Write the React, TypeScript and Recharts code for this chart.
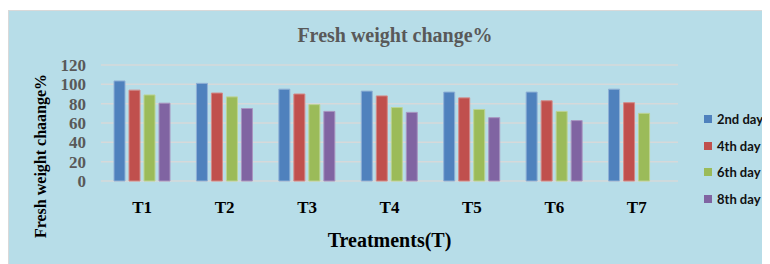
import { BarChart, Bar, XAxis, YAxis, CartesianGrid, Legend, Label } from "recharts";

const treatments = ["T1", "T2", "T3", "T4", "T5", "T6", "T7"];
const day2 = [103.5, 101, 95, 93, 92, 92, 95];
const day4 = [94, 91, 90, 88, 86, 83, 81];
const day6 = [89, 87, 79, 76, 74, 72, 70];
const day8 = [80.5, 75, 72, 71, 65.5, 62.5, null];
const yTicks = [0, 20, 40, 60, 80, 100, 120];

const seriesNames = ["2nd day", "4th day", "6th day", "8th day"];
const seriesColors = ["#4f81bd", "#c0504d", "#9bbb59", "#8064a2"];

const data = treatments.map((t, i) => ({
  name: t,
  d2: day2[i],
  d4: day4[i],
  d6: day6[i],
  d8: day8[i],
}));

const serif = "'Liberation Serif', 'Times New Roman', serif";

function LegendBox() {
  return (
    <div style={{ fontFamily: "Lato, sans-serif", fontWeight: 700, fontSize: 13, color: "#111", whiteSpace: "nowrap" }}>
      {seriesNames.map((n, i) => (
        <div key={n} style={{ display: "flex", alignItems: "center", height: 26.6 }}>
          <span style={{ width: 8, height: 8, background: seriesColors[i], marginRight: 5, display: "inline-block" }} />
          <span>{n}</span>
        </div>
      ))}
    </div>
  );
}

function YLabel(props: any) {
  return (
    <text
      x={32}
      y={146}
      transform="rotate(-90 32 146)"
      textAnchor="middle"
      dominantBaseline="central"
      fontFamily={serif}
      fontWeight={700}
      fontSize={16}
      fill="#000"
    >
      Fresh weight chaange%
    </text>
  );
}

export default function App() {
  return (
    <div style={{ paddingTop: 2 }}>
      <div
        style={{
          position: "relative",
          width: 762,
          height: 254,
          background: "#b7dde8",
          borderTop: "1px solid #d9d9d9",
          borderLeft: "1px solid #d9d9d9",
          boxSizing: "border-box",
        }}
      >
        <div
          style={{
            position: "absolute",
            left: 5,
            top: 12,
            width: 762,
            textAlign: "center",
            fontFamily: serif,
            fontWeight: 700,
            fontSize: 20,
            lineHeight: "24px",
            color: "#595959",
          }}
        >
          Fresh weight change%
        </div>
        <BarChart
          width={762}
          height={254}
          data={data}
          margin={{ top: 55, right: 92, bottom: 13, left: 0 }}
          barSize={11}
          barGap={4}
          style={{ position: "absolute", left: -1, top: -1 }}
        >
          <CartesianGrid vertical={false} stroke="#d6d9da" strokeWidth={1.5} />
          <XAxis
            dataKey="name"
            axisLine={false}
            tickLine={false}
            tickSize={0}
            tickMargin={20}
            height={70}
            tick={{ fontFamily: serif, fontWeight: 700, fontSize: 17, fill: "#000" }}
          >
            <Label
              value="Treatments(T)"
              position="insideBottom"
              offset={4}
              style={{ fontFamily: serif, fontWeight: 700, fontSize: 20, fill: "#000" }}
            />
          </XAxis>
          <YAxis
            width={93}
            domain={[0, 120]}
            ticks={yTicks}
            interval={0}
            axisLine={false}
            tickLine={false}
            tickSize={0}
            tickMargin={15}
            tick={{ fontFamily: serif, fontWeight: 700, fontSize: 17, fill: "#595959" }}
          >
            <Label content={<YLabel />} />
          </YAxis>
          <Legend
            layout="vertical"
            align="center"
            verticalAlign="middle"
            wrapperStyle={{ left: 696, top: 96, width: 64 }}
            content={<LegendBox />}
          />
          <Bar dataKey="d2" name={seriesNames[0]} fill={seriesColors[0]} stroke="#8fb0d6" strokeWidth={1} isAnimationActive={false} />
          <Bar dataKey="d4" name={seriesNames[1]} fill={seriesColors[1]} stroke="#d38a88" strokeWidth={1} isAnimationActive={false} />
          <Bar dataKey="d6" name={seriesNames[2]} fill={seriesColors[2]} stroke="#bcd393" strokeWidth={1} isAnimationActive={false} />
          <Bar dataKey="d8" name={seriesNames[3]} fill={seriesColors[3]} stroke="#a895c0" strokeWidth={1} isAnimationActive={false} />
        </BarChart>
      </div>
    </div>
  );
}
